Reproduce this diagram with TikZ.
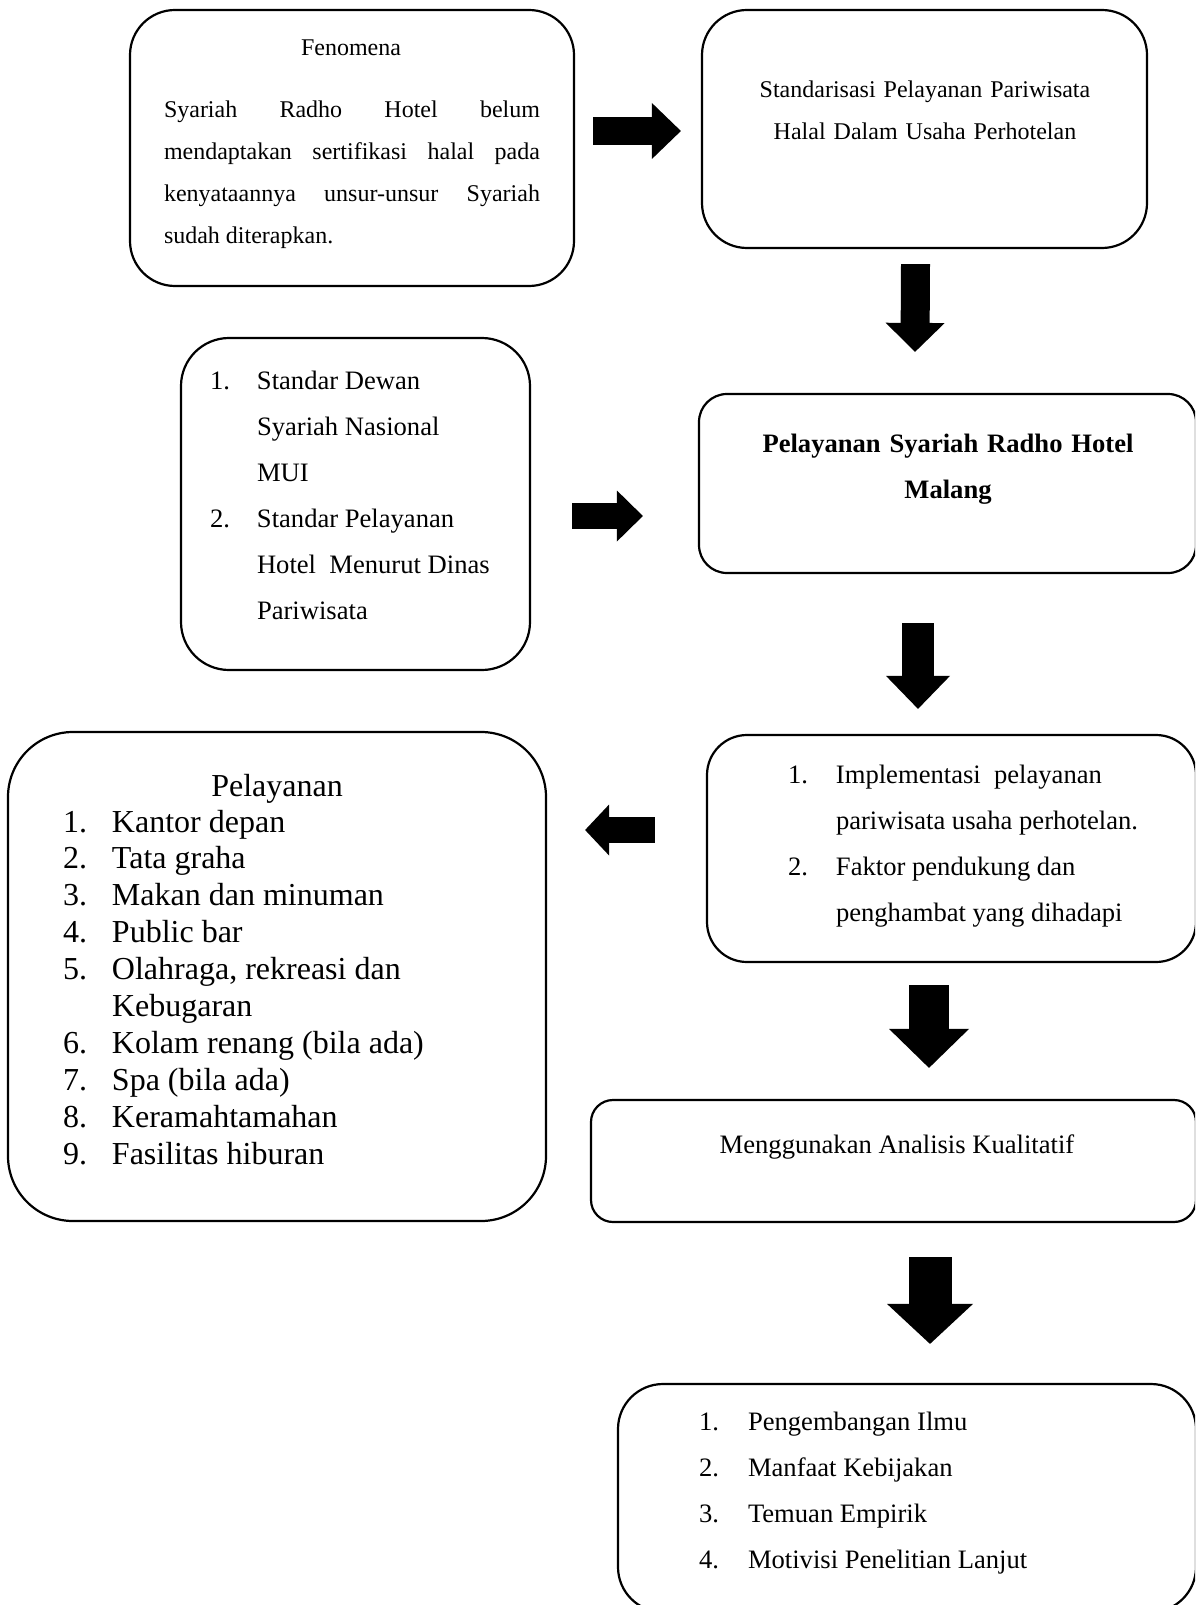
\documentclass[tikz,border=0pt]{standalone}
\usepackage{fontspec}
\setmainfont{Liberation Serif}
\usepackage{array}
\usetikzlibrary{arrows.meta}
\newcommand{\fenfont}{\fontsize{24}{42}\selectfont}
\newcommand{\fenpar}{\fenfont\tolerance=9999\relax}
\newcommand{\isifont}{\fontsize{26.6}{46}\selectfont}
\newcommand{\daftarfont}{\fontsize{32}{36.9}\selectfont}
\tikzset{
  box/.style={rectangle, draw, line width=2.2pt, inner sep=0pt},
  txt/.style={inner sep=0pt, outer sep=0pt},
  fatarrow/.style n args={3}{line width=#1,
    -{Triangle[length=#3, width=#2, line width=0pt]}},
}

\begin{document}
\begin{tikzpicture}[x=1pt, y=-1pt]
  \useasboundingbox (0,0) rectangle (1195,1605);
  \clip (0,0) rectangle (1195,1605);
  % boxes
  \node[box, minimum width=444pt, minimum height=276pt, rounded corners=45pt]
    (fenomena) at (352,148) {};
  \node[box, minimum width=445pt, minimum height=238pt, rounded corners=45pt]
    (standar) at (924.5,129) {};
  \node[box, minimum width=349pt, minimum height=332pt, rounded corners=48pt]
    (dsn) at (355.5,504) {};
  \node[box, minimum width=497pt, minimum height=179pt, rounded corners=28pt]
    (layanan) at (947.5,483.5) {};
  \node[box, minimum width=538pt, minimum height=489pt, rounded corners=65pt]
    (daftar) at (277,976.5) {};
  \node[box, minimum width=489pt, minimum height=227pt, rounded corners=40pt]
    (implementasi) at (951.5,848.5) {};
  \node[box, minimum width=605pt, minimum height=122pt, rounded corners=22pt]
    (analisis) at (893.5,1161) {};
  \node[box, minimum width=578pt, minimum height=228pt, rounded corners=45pt]
    (hasil) at (907,1498) {};
  % texts
  \node[txt, anchor=base, font=\fenfont] (fenjudul) at (351,56) {Fenomena};
  \node[txt, anchor=base west, font=\fenpar, text width=376pt,
        align=justify] (fenisi) at (164,118)
    {Syariah Radho Hotel belum\linebreak mendaptakan sertifikasi halal pada\linebreak
     kenyataannya unsur-unsur Syariah\linebreak sudah diterapkan.};
  \node[txt, anchor=base, font=\fenfont, text width=420pt, align=center]
    (standarisi) at (925,98)
    {Standarisasi Pelayanan Pariwisata\\Halal Dalam Usaha Perhotelan};
  \node[txt, anchor=base west, font=\isifont] (dsnisi) at (210,389)
    {\begin{tabular}[t]{@{}p{47pt}@{}l@{}}
      1. & Standar Dewan\\
         & Syariah Nasional\\
         & MUI\\
      2. & Standar Pelayanan\\
         & Hotel \ Menurut Dinas\\
         & Pariwisata
    \end{tabular}};
  \node[txt, anchor=base, font=\isifont\bfseries, text width=440pt, align=center]
    (layananisi) at (948,452) {Pelayanan Syariah Radho Hotel\\Malang};
  \node[txt, anchor=base, font=\daftarfont] (daftarjudul) at (277,796) {Pelayanan};
  \node[txt, anchor=base west, font=\daftarfont] (daftarisi) at (63,832)
    {\begin{tabular}[t]{@{}p{49pt}@{}l@{}}
      1. & Kantor depan\\
      2. & Tata graha\\
      3. & Makan dan minuman\\
      4. & Public bar\\
      5. & Olahraga, rekreasi dan\\
         & Kebugaran\\
      6. & Kolam renang (bila ada)\\
      7. & Spa (bila ada)\\
      8. & Keramahtamahan\\
      9. & Fasilitas hiburan
    \end{tabular}};
  \node[txt, anchor=base west, font=\isifont] (implementasiisi) at (788,783)
    {\begin{tabular}[t]{@{}p{48pt}@{}l@{}}
      1. & Implementasi \ pelayanan\\
         & pariwisata usaha perhotelan.\\
      2. & Faktor pendukung dan\\
         & penghambat yang dihadapi
    \end{tabular}};
  \node[txt, anchor=base, font=\isifont] (analisisisi) at (897,1153)
    {Menggunakan Analisis Kualitatif};
  \node[txt, anchor=base west, font=\isifont] (hasilisi) at (699,1430)
    {\begin{tabular}[t]{@{}p{49pt}@{}l@{}}
      1. & Pengembangan Ilmu\\
      2. & Manfaat Kebijakan\\
      3. & Temuan Empirik\\
      4. & Motivisi Penelitian Lanjut
    \end{tabular}};
  % block arrows
  \draw[fatarrow={28pt}{56pt}{29pt}]
    ([shift={(18,-17)}]fenomena.east) -- ([shift={(-20,2)}]standar.west);
  \draw[fatarrow={29pt}{59pt}{29pt}]
    ([shift={(-9,15)}]standar.south) -- ([shift={(-32.5,-41)}]layanan.north);
  \draw[fatarrow={26pt}{51pt}{26pt}]
    ([shift={(41,12)}]dsn.east) -- ([shift={(-55,32.5)}]layanan.west);
  \draw[fatarrow={32pt}{64pt}{33pt}]
    ([shift={(-29.5,49)}]layanan.south) -- ([shift={(-33.5,-25)}]implementasi.north);
  \draw[fatarrow={26pt}{51pt}{24pt}]
    ([shift={(-51,-18.5)}]implementasi.west) -- ([shift={(38,-146.5)}]daftar.east);
  \draw[fatarrow={40pt}{80pt}{39pt}]
    ([shift={(-22.5,22)}]implementasi.south) -- ([shift={(35.5,-31)}]analisis.north);
  \draw[fatarrow={43pt}{86pt}{40pt}]
    ([shift={(36.5,34)}]analisis.south) -- ([shift={(23,-39)}]hasil.north);
\end{tikzpicture}
\end{document}
